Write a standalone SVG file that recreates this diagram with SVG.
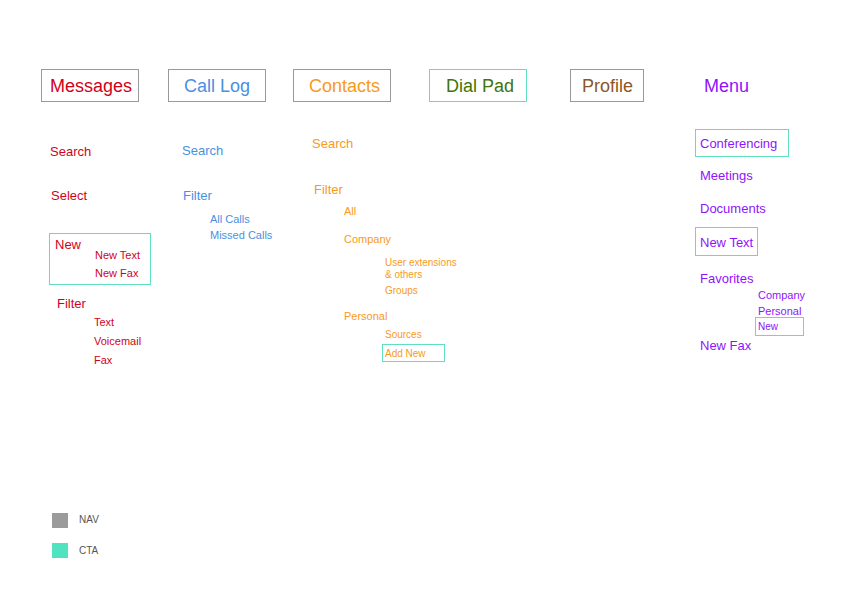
<svg xmlns="http://www.w3.org/2000/svg" width="842" height="595" viewBox="0 0 842 595">
<style>
text{font-family:"Liberation Sans",Arial,sans-serif}
.h{font-size:18px}.m{font-size:13px}.s{font-size:11px}.x{font-size:10px}
.nav{fill:none;stroke:#999;stroke-width:1}.cta{fill:none;stroke:#5fdfc0;stroke-width:1}
.r{fill:#d0021b}.b{fill:#4a90e2}.o{fill:#f5a623;fill:#f79a1e}.g{fill:#417505}.br{fill:#8b572a}.p{fill:#9013fe}
</style>
<rect width="842" height="595" fill="#fff"/>
<g id="messages">
<rect class="nav" x="41.5" y="69.5" width="97" height="32"/>
<text class="h r" x="50" y="92">Messages</text>
<text class="m r" x="50" y="156">Search</text>
<text class="m r" x="51" y="200">Select</text>
<rect class="cta" x="49.5" y="233.5" width="101" height="51"/>
<text class="m r" x="55" y="249">New</text>
<text class="s r" x="95" y="259">New Text</text>
<text class="s r" x="95" y="277">New Fax</text>
<text class="m r" x="57" y="308">Filter</text>
<text class="s r" x="94" y="326">Text</text>
<text class="s r" x="94" y="345">Voicemail</text>
<text class="s r" x="94" y="364">Fax</text>
</g>
<g id="calllog">
<rect class="nav" x="168.5" y="69.5" width="97" height="32"/>
<text class="h b" x="184" y="92">Call Log</text>
<text class="m b" x="182" y="155">Search</text>
<text class="m b" x="183" y="200">Filter</text>
<text class="s b" x="210" y="223">All Calls</text>
<text class="s b" x="210" y="239">Missed Calls</text>
</g>
<g id="contacts">
<rect class="nav" x="293.5" y="69.5" width="97" height="32"/>
<text class="h o" x="309" y="92">Contacts</text>
<text class="m o" x="312" y="148">Search</text>
<text class="m o" x="314" y="194">Filter</text>
<text class="s o" x="344" y="215">All</text>
<text class="s o" x="344" y="243">Company</text>
<text class="x o" x="385" y="266">User extensions</text>
<text class="x o" x="385" y="278"> &amp; others</text>
<text class="x o" x="385" y="294">Groups</text>
<text class="s o" x="344" y="320">Personal</text>
<text class="x o" x="385" y="338">Sources</text>
<rect class="cta" x="382.5" y="344.5" width="62" height="17"/>
<text class="x o" x="385" y="357">Add New</text>
</g>
<g id="dialpad">
<rect class="cta" x="429.5" y="69.5" width="97" height="32"/>
<text class="h g" x="446" y="92">Dial Pad</text>
</g>
<g id="profile">
<rect class="nav" x="570.5" y="69.5" width="73" height="32"/>
<text class="h br" x="582" y="92">Profile</text>
</g>
<g id="menu">
<text class="h p" x="704" y="92">Menu</text>
<rect class="cta" x="695.5" y="129.5" width="93" height="27"/>
<text class="m p" x="700" y="148">Conferencing</text>
<text class="m p" x="700" y="180">Meetings</text>
<text class="m p" x="700" y="213">Documents</text>
<rect class="cta" x="695.5" y="227.5" width="62" height="28"/>
<text class="m p" x="700" y="247">New Text</text>
<text class="m p" x="700" y="283">Favorites</text>
<text class="s p" x="758" y="299">Company</text>
<text class="s p" x="758" y="315">Personal</text>
<rect class="cta" x="755.5" y="317.5" width="48" height="18"/>
<text class="x p" x="758" y="330">New</text>
<text class="m p" x="700" y="350">New Fax</text>
</g>
<g id="connectors"></g>
<g id="legend">
<rect x="52" y="513" width="16" height="15" fill="#9b9b9b"/>
<text class="x" x="79" y="523" fill="#555">NAV</text>
<rect x="52" y="543" width="16" height="15" fill="#50e3c2"/>
<text class="x" x="79" y="554" fill="#555">CTA</text>
</g>
</svg>
